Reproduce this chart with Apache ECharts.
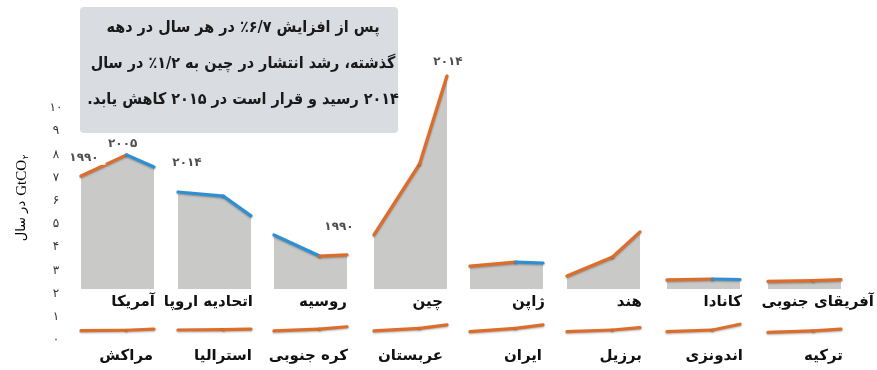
<!DOCTYPE html>
<html dir="rtl" lang="fa">
<head>
<meta charset="utf-8">
<script src="https://cdn.jsdelivr.net/npm/echarts@6/dist/echarts.min.js"></script>
<style>html,body{margin:0;padding:0;background:#fff}#c{width:877px;height:370px}</style>
</head>
<body>
<div id="c"></div>
<script>
// ---------- data ----------
const years = [1990, 2005, 2014];
const topCountries = ['آمریکا', 'اتحادیه اروپا', 'روسیه', 'چین', 'ژاپن', 'هند', 'کانادا', 'آفریقای جنوبی'];
const usa = [4.87, 5.78, 5.26];
const eu = [4.18, 4.00, 3.15];
const russia = [2.33, 1.42, 1.47];
const china = [2.33, 5.39, 9.18];
const japan = [0.99, 1.16, 1.12];
const india = [0.56, 1.38, 2.46];
const canada = [0.39, 0.43, 0.41];
const southAfrica = [0.33, 0.36, 0.40];
const topValues = [usa, eu, russia, china, japan, india, canada, southAfrica];

const bottomCountries = ['مراکش', 'استرالیا', 'کره جنوبی', 'عربستان', 'ایران', 'برزیل', 'اندونزی', 'ترکیه'];
const morocco = [0.40, 0.42, 0.47];
const australia = [0.43, 0.45, 0.47];
const korea = [0.39, 0.47, 0.57];
const saudi = [0.39, 0.50, 0.65];
const iran = [0.36, 0.50, 0.65];
const brazil = [0.36, 0.43, 0.53];
const indonesia = [0.36, 0.43, 0.68];
const turkey = [0.33, 0.39, 0.47];
const bottomValues = [morocco, australia, korea, saudi, iran, brazil, indonesia, turkey];

const yTicks = [0, 1, 2, 3, 4, 5, 6, 7, 8, 9, 10];
const noteLines = [
  'پس از افزایش ۶/۷٪ در هر سال در دهه',
  'گذشته، رشد انتشار در چین به ۱/۲٪ در سال',
  '۲۰۱۴ رسید و قرار است در ۲۰۱۵ کاهش یابد.'
];
// year annotations: [row, panel, pointIndex]
const annotations = [['top', 0, 0], ['top', 0, 1], ['top', 0, 2], ['top', 3, 0], ['top', 3, 2]];

// ---------- layout / style ----------
const panelLeft = [81, 178, 274, 374, 470, 567, 667, 768];
const panelWidth = 73;
const topLabelRight = [155, 253, 347, 443, 545, 642, 742, 874];
const botLabelRight = [153, 252, 348, 443, 542, 642, 743, 843];
const annOffset = [[3, -18], [-4, -11], [33, -4], [-35, -8], [1, -14]];
const ORANGE = '#dc6d2b', BLUE = '#2f8fd3', AREA = '#c9c9c7';
const FONT = '"DejaVu Sans Condensed", "DejaVu Sans"';
const LABEL_FONT = '"DejaVu Sans"';
const fa = s => String(s).replace(/\d/g, d => '۰۱۲۳۴۵۶۷۸۹'[d]);

const grid = [], xAxis = [], yAxis = [], series = [], graphic = [];

function addPanel(vals, left, top, withArea) {
  const g = grid.length;
  grid.push({left: left, top: top, width: panelWidth, height: 232});
  xAxis.push({type: 'value', gridIndex: g, min: 1990, max: 2014, show: false});
  yAxis.push({type: 'value', gridIndex: g, min: 0, max: 10, show: false});
  const pts = years.map((y, k) => [y, vals[k]]);
  if (withArea) {
    series.push({type: 'line', xAxisIndex: g, yAxisIndex: g, data: pts, symbol: 'none',
      lineStyle: {width: 0}, areaStyle: {color: AREA, opacity: 1}, z: 1, silent: true});
  }
  for (let k = 0; k < pts.length - 1; k++) {
    const up = vals[k + 1] >= vals[k];
    series.push({type: 'line', xAxisIndex: g, yAxisIndex: g, data: [pts[k], pts[k + 1]],
      symbol: 'none', silent: true, z: 3,
      lineStyle: {color: up ? ORANGE : BLUE, width: 3.2, cap: 'round',
        shadowColor: 'rgba(0,0,0,0.3)', shadowBlur: 2, shadowOffsetY: 1}});
  }
  return g;
}

const topGrid = topValues.map((v, i) => addPanel(v, panelLeft[i], 57, true));
const botGrid = bottomValues.map((v, i) => addPanel(v, panelLeft[i], 108, false));

annotations.forEach((a, n) => {
  const g = a[0] === 'top' ? topGrid[a[1]] : botGrid[a[1]];
  const vals = a[0] === 'top' ? topValues[a[1]] : bottomValues[a[1]];
  series.push({type: 'scatter', xAxisIndex: g, yAxisIndex: g, symbolSize: 1, z: 5, silent: true,
    itemStyle: {color: 'transparent'},
    data: [[years[a[2]], vals[a[2]]]],
    label: {show: true, position: 'inside', offset: annOffset[n],
      formatter: p => fa(p.value[0]), backgroundColor: '#fff', padding: [1, 7],
      color: '#222', fontFamily: 'DejaVu Sans', fontWeight: 'bold', fontSize: 12}});
});

// axis grid
const ag = grid.length;
grid.push({left: 70, top: 108, width: 5, height: 232});
xAxis.push({type: 'value', gridIndex: ag, show: false});
yAxis.push({type: 'value', gridIndex: ag, min: yTicks[0], max: yTicks[yTicks.length - 1], interval: 1,
  axisLine: {show: false}, axisTick: {show: false}, splitLine: {show: false},
  axisLabel: {margin: 14, align: 'center', color: '#333', fontFamily: 'DejaVu Sans', fontSize: 12,
    formatter: v => fa(v)}});

// note box
graphic.push({type: 'rect', shape: {x: 80, y: 7, width: 318, height: 126, r: 4},
  style: {fill: '#d9dce1'}, z: 0});
noteLines.forEach((t, i) => graphic.push({type: 'text', x: 243, y: 28 + i * 36,
  style: {text: t, align: 'center', verticalAlign: 'middle', fill: '#1a1a1a',
    font: 'bold 16px ' + FONT}, z: 2}));

// country names
topCountries.forEach((t, i) => graphic.push({type: 'text', x: topLabelRight[i], y: 302,
  style: {text: t, align: 'right', verticalAlign: 'middle', fill: '#111', font: 'bold 15px ' + LABEL_FONT}}));
bottomCountries.forEach((t, i) => graphic.push({type: 'text', x: botLabelRight[i], y: 356,
  style: {text: t, align: 'right', verticalAlign: 'middle', fill: '#111', font: 'bold 15px ' + LABEL_FONT}}));

// y-axis title
graphic.push({type: 'text', x: 22, y: 198, rotation: Math.PI / 2,
  style: {text: '{a|در سال}{b|GtCO}{c|۲}', align: 'center', verticalAlign: 'middle',
    rich: {
      a: {fontFamily: 'DejaVu Sans', fontSize: 13, color: '#333'},
      b: {fontFamily: 'Liberation Serif', fontSize: 15, color: '#333', padding: [0, 0, 0, 5]},
      c: {fontFamily: 'DejaVu Sans', fontSize: 8, color: '#333', verticalAlign: 'bottom', padding: [0, 0, 0, 1]}
    }}});

const chart = echarts.init(document.getElementById('c'), null, {renderer: 'canvas'});
chart.setOption({backgroundColor: '#fff', animation: false, grid, xAxis, yAxis, series, graphic});
</script>
</body>
</html>
